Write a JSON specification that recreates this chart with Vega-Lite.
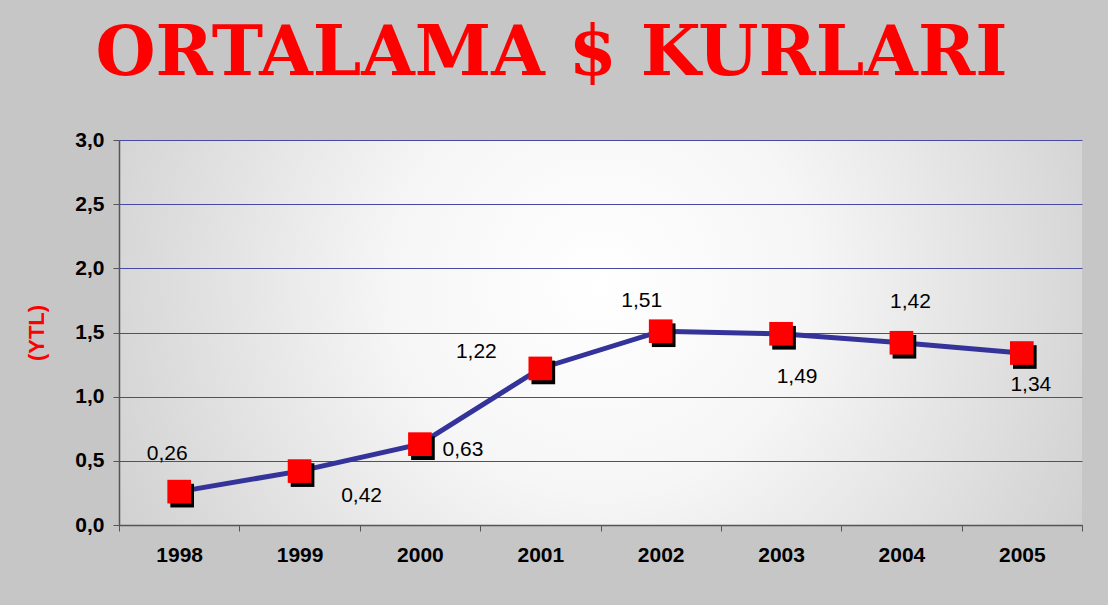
{
  "$schema": "https://vega.github.io/schema/vega-lite/v6.json",
  "autosize": "none",
  "width": 963,
  "height": 385,
  "padding": {"left": 119, "top": 140, "right": 26, "bottom": 80},
  "background": "#c6c6c6",
  "config": {
    "locale": {"number": {"decimal": ",", "thousands": ".", "grouping": [3], "currency": ["", " TL"]}},
    "view": {
      "stroke": null,
      "fill": {"gradient": "radial", "x1": 0.5, "y1": 0.45, "x2": 0.5, "y2": 0.45, "r1": 0, "r2": 0.62,
        "stops": [{"offset": 0, "color": "#ffffff"}, {"offset": 0.35, "color": "#f6f6f6"}, {"offset": 1, "color": "#cacaca"}]}
    },
    "text": {"font": "Liberation Sans", "fontSize": 21, "color": "#000000"}
  },
  "title": {
    "text": "ORTALAMA $ KURLARI",
    "font": "DejaVu Serif",
    "fontWeight": "bold",
    "fontSize": 69,
    "color": "#ff0000",
    "anchor": "middle",
    "frame": "group",
    "dx": -49,
    "offset": 40
  },
  "data": {
    "values": [
      {"year": "1998", "rate": 0.26},
      {"year": "1999", "rate": 0.42},
      {"year": "2000", "rate": 0.63},
      {"year": "2001", "rate": 1.22},
      {"year": "2002", "rate": 1.51},
      {"year": "2003", "rate": 1.49},
      {"year": "2004", "rate": 1.42},
      {"year": "2005", "rate": 1.34}
    ]
  },
  "encoding": {
    "x": {
      "field": "year", "type": "ordinal",
      "scale": {"paddingInner": 0, "paddingOuter": 0},
      "axis": {
        "title": null, "labelAngle": 0, "labelFont": "Liberation Sans", "labelFontWeight": "bold",
        "labelFontSize": 21, "labelColor": "#000000", "labelPadding": 13, "tickBand": "extent",
        "tickSize": 6, "tickColor": "#555555", "domainColor": "#555555", "domainWidth": 1.5, "grid": false
      }
    },
    "y": {
      "field": "rate", "type": "quantitative",
      "scale": {"domain": [0, 3], "nice": false},
      "axis": {
        "title": "(YTL)", "titleColor": "#ff0000", "titleFont": "Liberation Sans", "titleFontWeight": "bold",
        "titleFontSize": 22, "titlePadding": 26,
        "values": [0, 0.5, 1, 1.5, 2, 2.5, 3], "format": ".1f",
        "labelFont": "Liberation Sans", "labelFontWeight": "bold", "labelFontSize": 21, "labelColor": "#000000",
        "labelPadding": 9, "tickSize": 6, "tickColor": "#555555", "domainColor": "#555555", "domainWidth": 1.5,
        "grid": true, "gridColor": "#4848a8", "gridWidth": 1
      }
    }
  },
  "layer": [
    {"mark": {"type": "line", "color": "#333399", "strokeWidth": 5}},
    {"mark": {"type": "point", "shape": "square", "filled": true, "color": "#000000", "opacity": 1, "size": 560, "xOffset": 3, "yOffset": 4}},
    {"mark": {"type": "point", "shape": "square", "filled": true, "color": "#ff0000", "opacity": 1, "size": 560}},
    {"transform": [{"filter": "datum.year == '1998'"}], "mark": {"type": "text", "dx": -12, "dy": -38}, "encoding": {"text": {"field": "rate", "format": ".2f"}}},
    {"transform": [{"filter": "datum.year == '1999'"}], "mark": {"type": "text", "dx": 62, "dy": 25}, "encoding": {"text": {"field": "rate", "format": ".2f"}}},
    {"transform": [{"filter": "datum.year == '2000'"}], "mark": {"type": "text", "dx": 43, "dy": 6}, "encoding": {"text": {"field": "rate", "format": ".2f"}}},
    {"transform": [{"filter": "datum.year == '2001'"}], "mark": {"type": "text", "dx": -64, "dy": -16}, "encoding": {"text": {"field": "rate", "format": ".2f"}}},
    {"transform": [{"filter": "datum.year == '2002'"}], "mark": {"type": "text", "dx": -19, "dy": -30}, "encoding": {"text": {"field": "rate", "format": ".2f"}}},
    {"transform": [{"filter": "datum.year == '2003'"}], "mark": {"type": "text", "dx": 16, "dy": 43}, "encoding": {"text": {"field": "rate", "format": ".2f"}}},
    {"transform": [{"filter": "datum.year == '2004'"}], "mark": {"type": "text", "dx": 9, "dy": -41}, "encoding": {"text": {"field": "rate", "format": ".2f"}}},
    {"transform": [{"filter": "datum.year == '2005'"}], "mark": {"type": "text", "dx": 9, "dy": 32}, "encoding": {"text": {"field": "rate", "format": ".2f"}}}
  ]
}
